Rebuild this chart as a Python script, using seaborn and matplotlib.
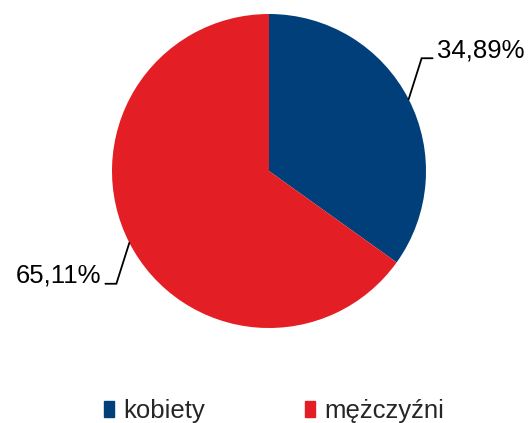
import numpy as np
import matplotlib
matplotlib.use('Agg')
import matplotlib.pyplot as plt
import matplotlib.patches as mpatches
import seaborn as sns

# Data
categories = ['kobiety', 'mężczyźni']
shares = [34.89, 65.11]
value_labels = ['34,89%', '65,11%']
colors = ['#003f7a', '#e31e24']

sns.set_theme(style='white')
plt.rcParams['font.family'] = ['Liberation Sans', 'DejaVu Sans']

fig = plt.figure(figsize=(5.30, 4.23), dpi=100)
ax = fig.add_axes([0, 0, 1, 1])

cx, cy, r = 269, 252, 157
wedges, _ = ax.pie(shares, colors=colors, startangle=90, counterclock=False,
                   center=(cx, cy), radius=r, frame=True,
                   wedgeprops=dict(linewidth=0))
ax.set_xlim(0, 530)
ax.set_ylim(0, 423)
ax.set_aspect('equal')
ax.axis('off')

# leader lines + percentage labels
for w, lab in zip(wedges, value_labels):
    ang = np.deg2rad((w.theta1 + w.theta2) / 2)
    x0 = cx + r * np.cos(ang)
    y0 = cy + r * np.sin(ang)
    sx = np.sign(np.cos(ang))
    sy = np.sign(np.sin(ang))
    x1 = x0 + sx * 13
    y1 = y0 + sy * 41
    x2 = x1 + sx * 11
    ax.plot([x0, x1, x2], [y0, y1, y1], color='black', lw=1.3,
            solid_joinstyle='miter')
    ax.text(x2 + sx * 4, y1 + 1, lab, fontsize=18.5,
            ha='left' if sx > 0 else 'right', va='baseline', color='black')

handles = [mpatches.Patch(color=c, label=l) for c, l in zip(colors, categories)]
fig.legend(handles=handles, loc='center', bbox_to_anchor=(0.517, 0.028), ncol=2,
           frameon=False, fontsize=18.5, handlelength=0.4, handleheight=0.55,
           handletextpad=0.35, columnspacing=3.9, borderpad=0, borderaxespad=0)

fig.savefig('out.png', dpi=100)
